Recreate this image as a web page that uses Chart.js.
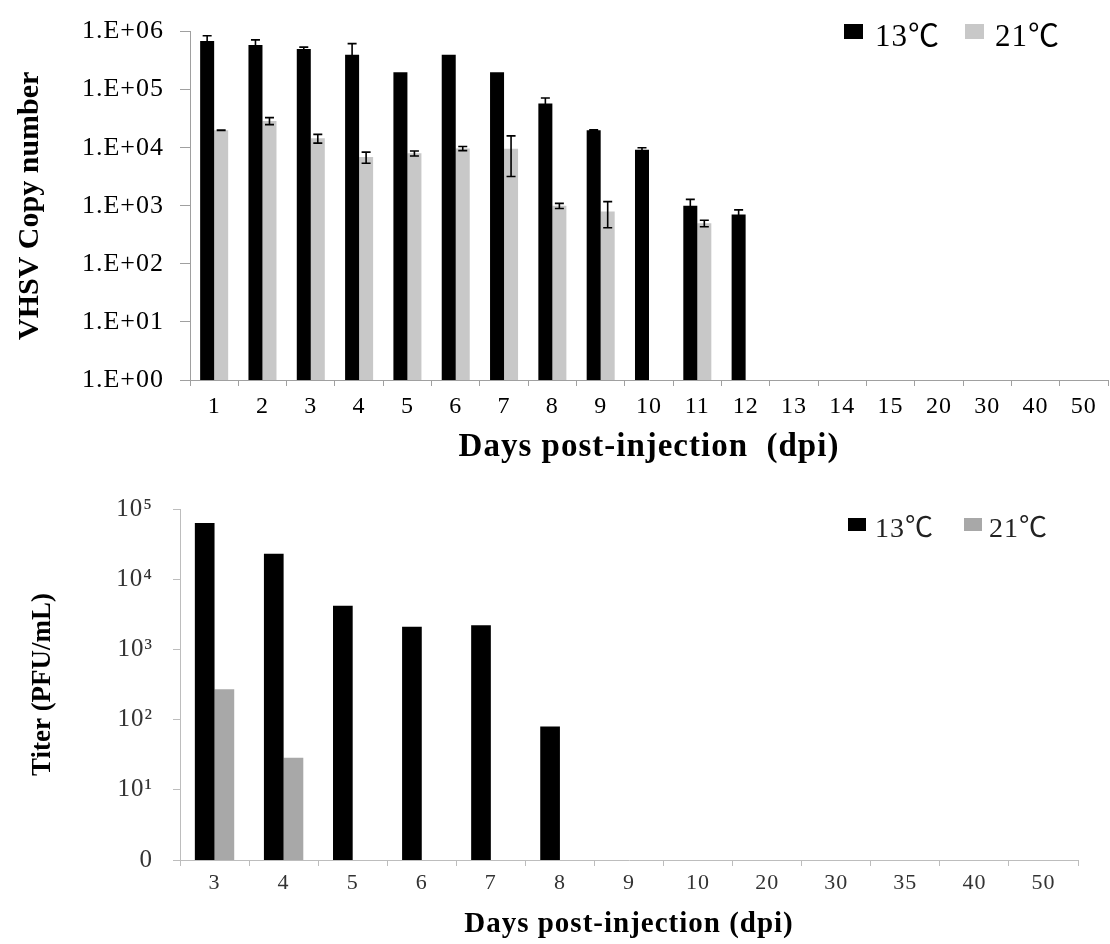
<!DOCTYPE html>
<html><head><meta charset="utf-8">
<script src="https://cdn.jsdelivr.net/npm/chart.js@4.4.1/dist/chart.umd.min.js"></script>
<style>
html,body{margin:0;padding:0;background:#fff;}
#wrap{position:relative;width:1110px;height:944px;overflow:hidden;}
#c1{position:absolute;left:0;top:0;}
#c2{position:absolute;left:0;top:470px;}
</style></head><body>
<div id="wrap">
<canvas id="c1" width="1110" height="470"></canvas>
<canvas id="c2" width="1110" height="474"></canvas>
</div>
<script>
// ---------- Top chart data (VHSV copy number) ----------
const topDays = ['1','2','3','4','5','6','7','8','9','10','11','12','13','14','15','20','30','40','50'];
const top13 = [6.9e5,5.9e5,5.0e5,4.0e5,2.0e5,4.0e5,2.0e5,5.8e4,2.0e4,9.2e3,1.0e3,7.1e2,null,null,null,null,null,null,null];
const top13Err = [1.6e5,1.3e5,4e4,2.2e5,0,0,0,1.4e4,3e2,8e2,2.9e2,1.4e2,null,null,null,null,null,null,null];
const top21 = [2.0e4,2.9e4,1.45e4,6.9e3,8.0e3,9.7e3,9.6e3,1.0e3,8.0e2,null,5.0e2,null,null,null,null,null,null,null,null];
const top21Err = [2e2,4e3,2.5e3,1.5e3,8e2,8e2,6.4e3,1e2,3.8e2,null,65,null,null,null,null,null,null,null,null];
const topYTicks = [1,10,100,1e3,1e4,1e5,1e6];
const topYLabels = ['1.E+00','1.E+01','1.E+02','1.E+03','1.E+04','1.E+05','1.E+06'];

// ---------- Bottom chart data (Titer PFU/mL) ----------
const botDays = ['3','4','5','6','7','8','9','10','20','30','35','40','50'];
const bot13 = [6.3e4,2.3e4,4.2e3,2.1e3,2.2e3,80,null,null,null,null,null,null,null];
const bot21 = [270,28.5,null,null,null,null,null,null,null,null,null,null,null];
const botYTicks = [1,10,100,1e3,1e4,1e5];
const botYLabels = ['0','10\u00B9','10\u00B2','10\u00B3','10\u2074','10\u2075'];

const seriesLabels = ['13\u2103','21\u2103'];
const SERIF = "'Liberation Serif', 'Times New Roman', serif";
const LEG_FONT = "'Liberation Serif', 'Noto Sans CJK SC', serif";

const spacingPlugin = {
  id: 'spacing',
  afterLayout(chart) {
    const y = chart.scales.y;
    if (y && !y._noSpacingTitle) {
      const orig = y.drawTitle.bind(y);
      y.drawTitle = function () {
        const c = this.ctx, prev = c.letterSpacing;
        c.letterSpacing = '0px';
        orig();
        c.letterSpacing = prev;
      };
      y._noSpacingTitle = true;
    }
  },
  beforeDraw(chart, args, o) { chart.ctx.letterSpacing = (o.px || 0) + 'px'; }
};

const errorBars = {
  id: 'errorBars',
  afterDatasetsDraw(chart) {
    const ctx = chart.ctx, y = chart.scales.y;
    chart.data.datasets.forEach((ds, di) => {
      if (!ds.errors) return;
      const meta = chart.getDatasetMeta(di);
      meta.data.forEach((bar, i) => {
        const v = ds.data[i], e = ds.errors[i];
        if (v == null || !e) return;
        const yt = y.getPixelForValue(v + e);
        const yb = y.getPixelForValue(Math.max(v - e, y.min));
        ctx.save();
        ctx.strokeStyle = '#000'; ctx.lineWidth = 1.6;
        ctx.beginPath();
        ctx.moveTo(bar.x, yt); ctx.lineTo(bar.x, yb);
        ctx.moveTo(bar.x - 4.5, yt); ctx.lineTo(bar.x + 4.5, yt);
        ctx.moveTo(bar.x - 4.5, yb); ctx.lineTo(bar.x + 4.5, yb);
        ctx.stroke();
        ctx.restore();
      });
    });
  }
};

const customLegend = {
  id: 'customLegend',
  afterDraw(chart, args, o) {
    const ctx = chart.ctx;
    ctx.save();
    ctx.letterSpacing = o.ls + 'px';
    chart.data.datasets.forEach((ds, i) => {
      ctx.fillStyle = ds.backgroundColor;
      ctx.fillRect(o.boxX[i], o.boxY, o.boxW, o.boxH);
      ctx.fillStyle = o.color;
      ctx.font = o.font;
      ctx.textAlign = 'left';
      ctx.textBaseline = 'alphabetic';
      ctx.fillText(ds.label, o.textX[i], o.baseline);
    });
    ctx.restore();
  }
};

function makeChart(id, cfg) {
  return new Chart(document.getElementById(id), {
    type: 'bar',
    data: {
      labels: cfg.labels,
      datasets: [
        { label: seriesLabels[0], data: cfg.d13, errors: cfg.e13, backgroundColor: '#000000',
          categoryPercentage: cfg.catPct, barPercentage: 1.0 },
        { label: seriesLabels[1], data: cfg.d21, errors: cfg.e21, backgroundColor: cfg.grey,
          categoryPercentage: cfg.catPct, barPercentage: 1.0 }
      ]
    },
    options: {
      responsive: false, animation: false,
      layout: { padding: cfg.pad },
      plugins: {
        legend: { display: false }, tooltip: { enabled: false },
        spacing: { px: cfg.ls },
        customLegend: cfg.legend
      },
      scales: {
        x: {
          type: 'category', offset: true,
          grid: { offset: true, drawOnChartArea: false, drawTicks: true, tickLength: cfg.xTick, color: cfg.axis },
          border: { display: true, color: cfg.axis, width: 1 },
          ticks: { font: { family: SERIF, size: cfg.xFont }, color: cfg.tickColor, padding: cfg.xPad,
                   maxRotation: 0, minRotation: 0, autoSkip: false },
          afterFit: s => { s.height = cfg.xHeight; },
          title: { display: true, text: cfg.xTitle, color: '#000',
                   font: { family: SERIF, size: cfg.xTitleFont, weight: 'bold', lineHeight: 1.2 },
                   padding: { top: 0, bottom: cfg.xTitlePad } }
        },
        y: {
          type: 'logarithmic', min: cfg.yMin, max: cfg.yMax,
          afterBuildTicks: s => { s.ticks = cfg.yTicks.map(v => ({ value: v })); },
          afterFit: s => { s.width = cfg.yWidth; },
          grid: { drawOnChartArea: false, drawTicks: true, tickLength: cfg.yTick, color: cfg.axis },
          border: { display: true, color: cfg.axis, width: 1 },
          ticks: { callback: (v, i) => cfg.yLabels[i], font: { family: SERIF, size: cfg.yFont },
                   color: cfg.tickColor, padding: cfg.yPad, autoSkip: false },
          title: { display: true, text: cfg.yTitle, color: '#000',
                   font: { family: SERIF, size: cfg.yTitleFont, weight: 'bold', lineHeight: 1.2 },
                   padding: { top: cfg.yTitlePad, bottom: 0 } }
        }
      }
    },
    plugins: [spacingPlugin, errorBars, customLegend]
  });
}

makeChart('c1', {
  labels: topDays, d13: top13, e13: top13Err, d21: top21, e21: top21Err,
  grey: '#c8c8c8', catPct: 0.58, ls: 1,
  pad: { left: 0, right: 2, top: 17, bottom: 0 },
  axis: '#a0a0a0', tickColor: '#000',
  xTick: 6, xFont: 24, xPad: 6, xHeight: 90,
  xTitle: 'Days post-injection  (dpi)', xTitleFont: 33, xTitlePad: 3,
  yMin: 1, yMax: 1e6, yTicks: topYTicks, yLabels: topYLabels,
  yWidth: 190, yTick: 10, yFont: 26, yPad: 16,
  yTitle: 'VHSV Copy number', yTitleFont: 30, yTitlePad: 12,
  legend: { boxX: [844, 965], boxY: 24, boxW: 19, boxH: 15, textX: [875, 995], baseline: 46,
            font: "31px " + LEG_FONT, color: '#000', ls: 1 }
});

makeChart('c2', {
  labels: botDays, d13: bot13, e13: null, d21: bot21, e21: null,
  grey: '#a8a8a8', catPct: 0.57, ls: 1,
  pad: { left: 0, right: 32, top: 39, bottom: 0 },
  axis: '#bdbdbd', tickColor: '#333',
  xTick: 6, xFont: 22, xPad: 4, xHeight: 84,
  xTitle: 'Days post-injection (dpi)', xTitleFont: 29, xTitlePad: 2,
  yMin: 1, yMax: 1e5, yTicks: botYTicks, yLabels: botYLabels,
  yWidth: 180, yTick: 7, yFont: 25, yPad: 20,
  yTitle: 'Titer (PFU/mL)', yTitleFont: 27, yTitlePad: 27,
  legend: { boxX: [848, 964], boxY: 48, boxW: 18, boxH: 13, textX: [875, 989], baseline: 67,
            font: "28px " + LEG_FONT, color: '#222', ls: 1 }
});
</script>
</body></html>
